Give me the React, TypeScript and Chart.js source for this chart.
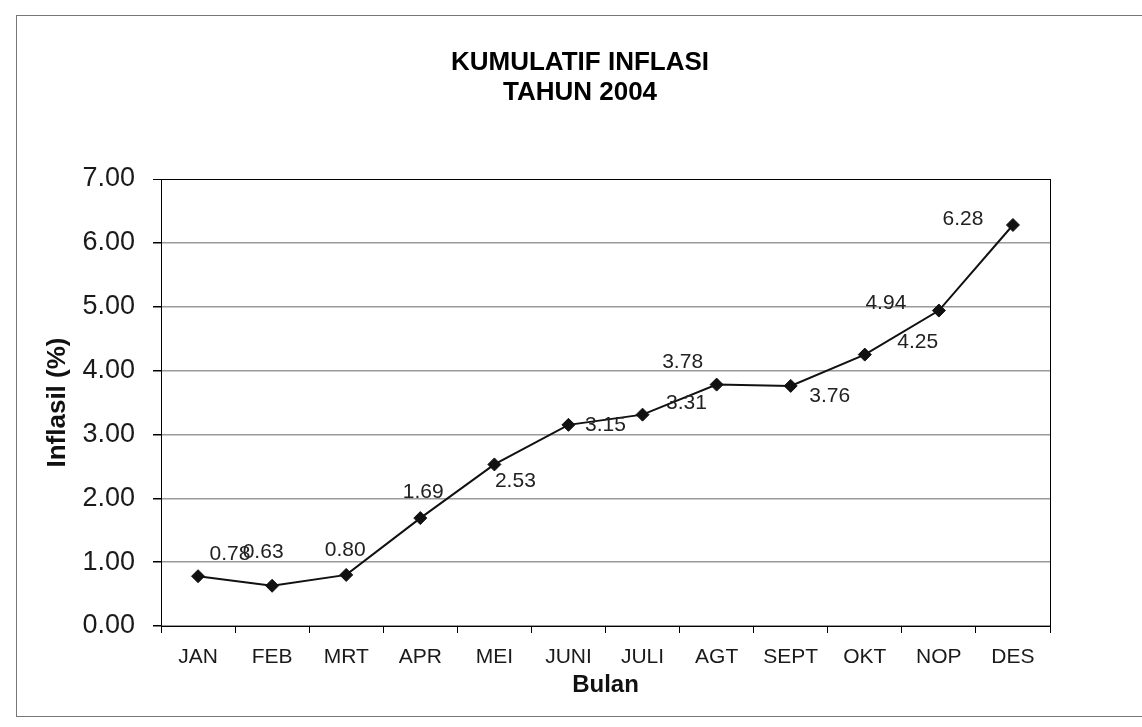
import React, { useEffect, useRef } from "react";
import { Chart, registerables } from "chart.js";

Chart.register(...registerables);

const categories = ["JAN", "FEB", "MRT", "APR", "MEI", "JUNI", "JULI", "AGT", "SEPT", "OKT", "NOP", "DES"];
const inflationValues = [0.78, 0.63, 0.8, 1.69, 2.53, 3.15, 3.31, 3.78, 3.76, 4.25, 4.94, 6.28];
const yTickValues = [0, 1, 2, 3, 4, 5, 6, 7];
const titleLines = ["KUMULATIF INFLASI", "TAHUN 2004"];
const xAxisTitle = "Bulan";
const yAxisTitle = "Inflasil (%)";

// label placement (style only): pixel offset of each value label from its point
const labelOffsets: [number, number][] = [
  [32, -22], [-9, -34], [-1, -25], [3, -26], [21, 17], [37, 0],
  [44, -11], [-34, -22], [39, 10], [53, -12], [-53, -7], [-50, -6],
];

const FONT = "'Liberation Sans', Arial, Helvetica, sans-serif";

const valueLabelPlugin = {
  id: "valueLabels",
  afterDatasetsDraw(chart: any) {
    const meta = chart.getDatasetMeta(0);
    const ctx = chart.ctx;
    ctx.save();
    ctx.font = `21px ${FONT}`;
    ctx.fillStyle = "#222";
    ctx.textAlign = "center";
    ctx.textBaseline = "middle";
    meta.data.forEach((pt: any, i: number) => {
      const [dx, dy] = labelOffsets[i];
      ctx.fillText(inflationValues[i].toFixed(2), pt.x + dx, pt.y + dy);
    });
    ctx.restore();
  },
};

export default function App() {
  const canvasRef = useRef<HTMLCanvasElement | null>(null);

  useEffect(() => {
    if (!canvasRef.current) return;
    const chart = new Chart(canvasRef.current, {
      type: "line",
      data: {
        labels: categories,
        datasets: [
          {
            data: inflationValues,
            borderColor: "#111",
            borderWidth: 2,
            backgroundColor: "#111",
            pointStyle: "rectRot",
            pointRadius: 6.5,
            pointBorderWidth: 1,
            pointBackgroundColor: "#111",
            pointBorderColor: "#111",
            tension: 0,
            fill: false,
            yAxisID: "y",
          },
        ],
      },
      options: {
        responsive: false,
        animation: false,
        devicePixelRatio: 1,
        layout: { padding: { left: 20, right: 2, top: 0, bottom: 0 } },
        plugins: {
          legend: { display: false },
          tooltip: { enabled: false },
          title: {
            display: true,
            text: titleLines,
            color: "#000",
            font: { family: FONT, size: 26, weight: "bold", lineHeight: 1.154 },
            padding: { top: 47.5, bottom: 71.5 },
          },
        },
        scales: {
          x: {
            type: "category",
            offset: true,
            grid: {
              display: true,
              drawOnChartArea: false,
              drawTicks: true,
              tickLength: 7,
              offset: true,
              color: "#000",
              tickColor: "#000",
            },
            border: { display: true, color: "#000", width: 1 },
            ticks: { color: "#1a1a1a", font: { family: FONT, size: 21 }, padding: 12, maxRotation: 0, autoSkip: false },
            title: {
              display: true,
              text: xAxisTitle,
              color: "#111",
              font: { family: FONT, size: 24, weight: "bold", lineHeight: 1.2 },
              padding: { top: 0, bottom: 27 },
            },
            afterFit(scale: any) {
              scale.height = 101;
            },
          },
          y: {
            position: "left",
            min: 0,
            max: 7,
            afterBuildTicks(scale: any) {
              scale.ticks = yTickValues.map((v) => ({ value: v }));
            },
            ticks: {
              color: "#1a1a1a",
              font: { family: FONT, size: 27 },
              padding: 18,
              callback: (v: any) => Number(v).toFixed(2),
            },
            grid: {
              color: (c: any) => (c.tick && c.tick.value === 7 ? "#000" : "#9a9a9a"),
              lineWidth: (c: any) => (c.tick && c.tick.value === 7 ? 1 : 1.5),
              tickColor: "#000",
              tickLength: 8,
              drawTicks: true,
            },
            border: { display: true, color: "#000", width: 1 },
            title: {
              display: true,
              text: yAxisTitle,
              color: "#111",
              font: { family: FONT, size: 26, weight: "bold", lineHeight: 1.2 },
              padding: { top: 22, bottom: 0 },
            },
            afterFit(scale: any) {
              scale.width = 141;
            },
          },
          yRight: {
            position: "right",
            min: 0,
            max: 7,
            ticks: { display: false },
            grid: { display: false, drawOnChartArea: false, drawTicks: false },
            border: { display: true, color: "#000", width: 1 },
            afterFit(scale: any) {
              scale.width = 90;
            },
          },
        },
      },
      plugins: [valueLabelPlugin],
    } as any);
    return () => chart.destroy();
  }, []);

  return (
    <div style={{ position: "absolute", left: 0, top: 0, width: 1142, height: 727, background: "#fff", overflow: "hidden" }}>
      <div
        style={{
          position: "absolute",
          left: 16,
          top: 15,
          width: 1200,
          height: 702,
          borderLeft: "1.5px solid #777",
          borderTop: "1.5px solid #777",
          borderBottom: "1.5px solid #777",
          boxSizing: "border-box",
        }}
      />
      <canvas ref={canvasRef} width={1142} height={727} style={{ position: "absolute", left: 0, top: 0, width: 1142, height: 727 }} />
    </div>
  );
}
